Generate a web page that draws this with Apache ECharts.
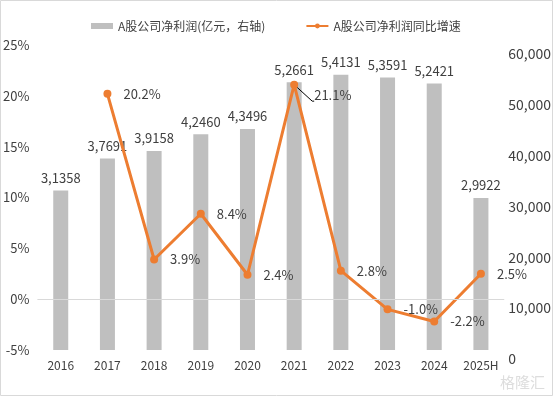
<!DOCTYPE html>
<html>
<head>
<meta charset="utf-8">
<script src="https://cdn.jsdelivr.net/npm/echarts@6/dist/echarts.min.js"></script>
<style>
  html, body { margin: 0; padding: 0; background: #fff; }
  #main { width: 554px; height: 397px; }
</style>
</head>
<body>
<div id="main"></div>
<script>
// 年份
var categories = ['2016', '2017', '2018', '2019', '2020', '2021', '2022', '2023', '2024', '2025H'];
// A股公司净利润（亿元）
var profit = [31358, 37691, 39158, 42460, 43496, 52661, 54131, 53591, 52421, 29922];
// 同比增速（%）
var growth = [null, 20.2, 3.9, 8.4, 2.4, 21.1, 2.8, -1.0, -2.2, 2.5];

var FONT = '"Noto Sans CJK SC", "Noto Sans", sans-serif';
var TEXT = '#404040';

// 万位分组：31358 -> 3,1358
function wanFormat(v) {
    var s = String(v);
    var out = '';
    while (s.length > 4) {
        out = ',' + s.slice(-4) + out;
        s = s.slice(0, -4);
    }
    return s + out;
}

var growthData = [];
for (var i = 0; i < growth.length; i++) {
    if (categories[i] === '2021') {
        growthData.push({
            value: growth[i],
            label: { offset: [4, 10] },
            labelLine: { show: true, length2: 2, lineStyle: { color: '#000', width: 1 } }
        });
    } else {
        growthData.push(growth[i]);
    }
}

var myChart = echarts.init(document.getElementById('main'));

var option = {
    animation: false,
    textStyle: { fontFamily: FONT },
    legend: {
        top: 15,
        left: 86,
        itemGap: 40,
        itemWidth: 22,
        itemHeight: 6,
        textStyle: { color: TEXT, fontSize: 12, fontFamily: FONT },
        data: [
            { name: 'A股公司净利润(亿元，右轴)', icon: 'rect' },
            { name: 'A股公司净利润同比增速' }
        ]
    },
    grid: {
        left: 37,
        right: 49,
        top: 45,
        bottom: 47,
        containLabel: false
    },
    xAxis: {
        type: 'category',
        data: categories,
        axisLine: { show: false },
        axisTick: { show: false },
        axisLabel: { color: TEXT, fontSize: 12, margin: 9 }
    },
    yAxis: [
        {
            type: 'value',
            min: -5,
            max: 25,
            interval: 5,
            position: 'left',
            splitLine: { show: false },
            axisLine: { show: false },
            axisTick: { show: false },
            axisLabel: { color: TEXT, fontSize: 13, margin: 8, formatter: '{value}%' }
        },
        {
            type: 'value',
            min: 0,
            max: 60000,
            interval: 10000,
            position: 'right',
            splitLine: { show: false },
            axisLine: { show: false },
            axisTick: { show: false },
            axisLabel: {
                color: TEXT,
                fontSize: 14,
                margin: 4,
                verticalAlign: 'top',
                padding: [2, 0, 0, 0],
                formatter: function (v) { return echarts.format.addCommas(v); }
            }
        }
    ],
    series: [
        {
            name: 'A股公司净利润(亿元，右轴)',
            type: 'bar',
            yAxisIndex: 1,
            barWidth: 15,
            itemStyle: { color: '#BFBFBF' },
            label: {
                show: true,
                position: 'top',
                distance: 6,
                color: TEXT,
                fontSize: 13,
                formatter: function (p) { return wanFormat(p.value); }
            },
            data: profit
        },
        {
            name: 'A股公司净利润同比增速',
            type: 'line',
            yAxisIndex: 0,
            connectNulls: false,
            symbol: 'circle',
            symbolSize: 8,
            lineStyle: { color: '#ED7D31', width: 3 },
            itemStyle: { color: '#ED7D31' },
            label: {
                show: true,
                position: 'right',
                distance: 12,
                color: TEXT,
                fontSize: 13,
                formatter: function (p) { return p.value.toFixed(1) + '%'; }
            },
            markLine: {
                silent: true,
                symbol: 'none',
                label: { show: false },
                lineStyle: { color: '#D9D9D9', type: 'solid', width: 1 },
                data: [{ yAxis: 0 }]
            },
            z: 3,
            data: growthData
        }
    ],
    graphic: [
        {
            type: 'rect',
            z: 100,
            shape: { x: 552, y: 0, width: 10, height: 397 },
            style: { fill: '#fff' }
        },
        {
            type: 'rect',
            z: 101,
            shape: { x: 0.5, y: 0.5, width: 552, height: 395 },
            style: { fill: 'none', stroke: '#D9D9D9', lineWidth: 1 }
        },
        {
            type: 'text',
            z: 101,
            left: 500,
            top: 375,
            style: { text: '格隆汇', fill: '#DDDDDD', font: '15px ' + FONT }
        }
    ]
};

myChart.setOption(option);
</script>
</body>
</html>
